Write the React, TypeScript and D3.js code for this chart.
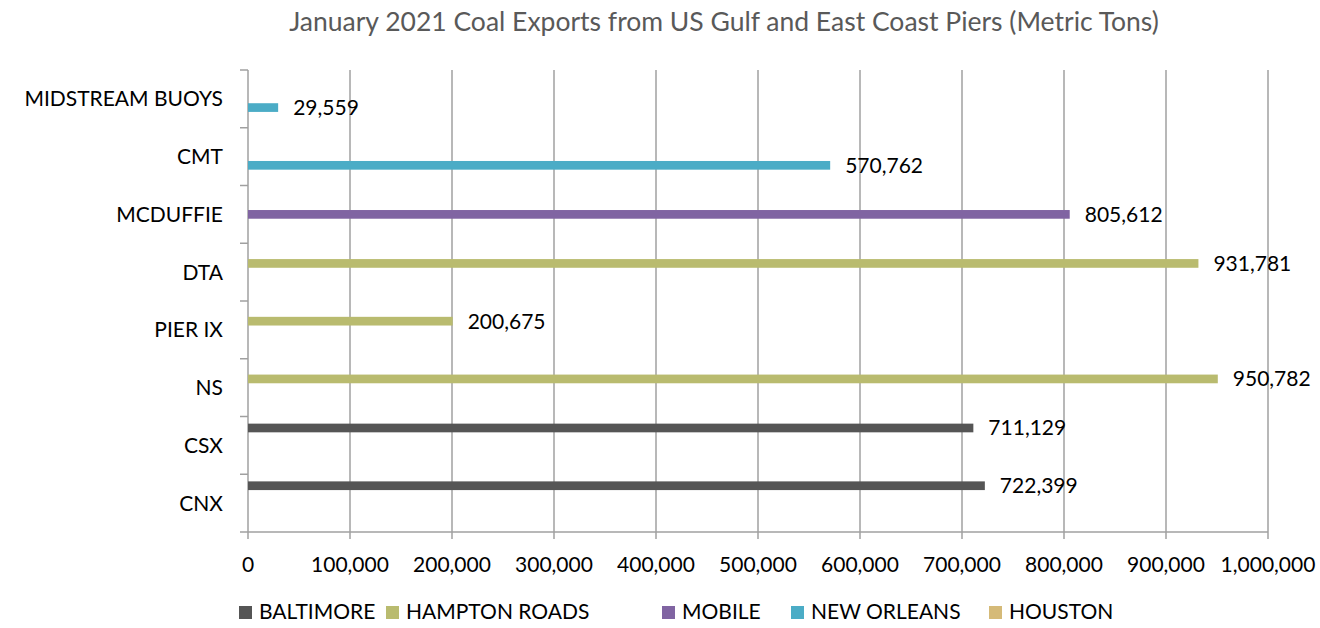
import React from "react";
import * as d3 from "d3";

const categories = ["MIDSTREAM BUOYS", "CMT", "MCDUFFIE", "DTA", "PIER IX", "NS", "CSX", "CNX"];
const seriesNames = ["BALTIMORE", "HAMPTON ROADS", "MOBILE", "NEW ORLEANS", "HOUSTON"];
const seriesColors = ["#555555", "#B9BB6F", "#8064A2", "#4BACC6", "#D5BA78"];
// values per series, aligned with categories (null = no bar)
const baltimore = [null, null, null, null, null, null, 711129, 722399];
const hamptonRoads = [null, null, null, 931781, 200675, 950782, null, null];
const mobile = [null, null, 805612, null, null, null, null, null];
const newOrleans = [29559, 570762, null, null, null, null, null, null];
const houston = [null, null, null, null, null, null, null, null];
const seriesValues = [baltimore, hamptonRoads, mobile, newOrleans, houston];
const xTicks = [0, 100000, 200000, 300000, 400000, 500000, 600000, 700000, 800000, 900000, 1000000];
const title = "January 2021 Coal Exports from US Gulf and East Coast Piers (Metric Tons)";

const W = 1320, H = 628;
const left = 248, right = 1268, top = 70, bottom = 532;
const FONT = "Lato, 'Open Sans', sans-serif";
const legendX = [239, 386, 662, 791, 989];
const FS = 21;

export default function App() {
  const x = d3.scaleLinear().domain([0, 1000000]).range([left, right]);
  const y = d3.scaleBand<string>().domain(categories).range([top, bottom]).padding(0);
  const inner = d3.scaleBand<string>().domain(seriesNames).range([0, y.bandwidth()]).paddingInner(0).paddingOuter(0.82);
  const fmt = d3.format(",");
  const grid = "#A0A0A0";
  return (
    <svg width={W} height={H} style={{ position: "absolute", left: 0, top: 0, background: "#fff" }} fontFamily={FONT}>
      <text x={724} y={31} textAnchor="middle" fontSize={26.5} fill="#595959">{title}</text>
      {xTicks.map((t) => (
        <g key={t}>
          {t > 0 && <line x1={x(t)} x2={x(t)} y1={top} y2={bottom} stroke={grid} strokeWidth={1.5} />}
          <line x1={x(t)} x2={x(t)} y1={bottom} y2={bottom + 7} stroke={grid} strokeWidth={1.5} />
          <text x={x(t)} y={572} textAnchor="middle" fontSize={FS} fill="#000">{fmt(t)}</text>
        </g>
      ))}
      <line x1={left} x2={right} y1={bottom} y2={bottom} stroke={grid} strokeWidth={1.5} />
      <line x1={left} x2={left} y1={top} y2={bottom} stroke={grid} strokeWidth={1.5} />
      {d3.range(categories.length + 1).map((i) => {
        const yy = top + i * y.step();
        return <line key={i} x1={left - 8} x2={left} y1={yy} y2={yy} stroke={grid} strokeWidth={1.5} />;
      })}
      {categories.map((c) => (
        <text key={c} x={223} y={(y(c) as number) + y.bandwidth() / 2 + 7.5} textAnchor="end" fontSize={FS} fill="#000">{c}</text>
      ))}
      {seriesValues.map((vals, si) =>
        vals.map((v, ci) => {
          if (v == null) return null;
          const yy = (y(categories[ci]) as number) + (inner(seriesNames[si]) as number);
          const h = inner.bandwidth();
          return (
            <g key={si + "-" + ci}>
              <rect x={x(0)} y={yy} width={x(v) - x(0)} height={h} fill={seriesColors[si]} />
              <text x={x(v) + 15} y={yy + h / 2 + 7.5} fontSize={FS} fill="#000">{fmt(v)}</text>
            </g>
          );
        })
      )}
      {seriesNames.map((s, i) => (
        <g key={s}>
          <rect x={legendX[i]} y={606} width={13} height={13} fill={seriesColors[i]} />
          <text x={legendX[i] + 20} y={619} fontSize={FS} fill="#000">{s}</text>
        </g>
      ))}
    </svg>
  );
}
